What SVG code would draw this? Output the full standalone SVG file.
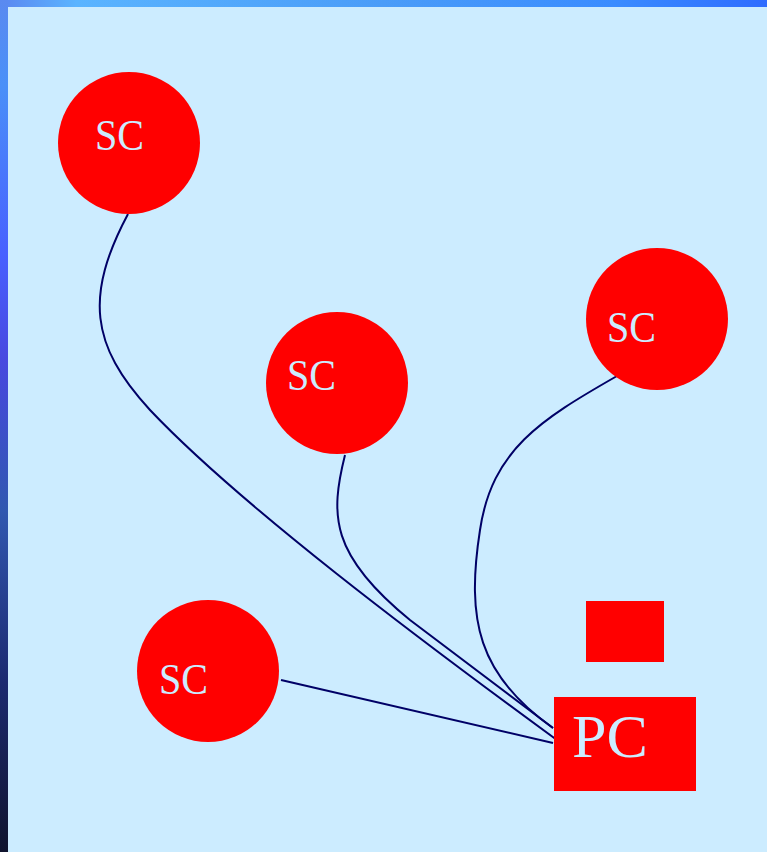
<svg xmlns="http://www.w3.org/2000/svg" width="767" height="852" viewBox="0 0 767 852">
<defs>
<linearGradient id="gTop" x1="0" y1="0" x2="1" y2="0">
<stop offset="0" stop-color="#5a86f0"/>
<stop offset="0.1" stop-color="#5ab4ff"/>
<stop offset="0.5" stop-color="#4a9cf8"/>
<stop offset="0.8" stop-color="#3a8cff"/>
<stop offset="1" stop-color="#2f6cff"/>
</linearGradient>
<linearGradient id="gLeft" x1="0" y1="0" x2="0" y2="1">
<stop offset="0" stop-color="#5a8af0"/>
<stop offset="0.1" stop-color="#4a90f8"/>
<stop offset="0.3" stop-color="#4860ff"/>
<stop offset="0.42" stop-color="#4848e0"/>
<stop offset="0.6" stop-color="#3058b0"/>
<stop offset="0.8" stop-color="#1c2a70"/>
<stop offset="1" stop-color="#10142e"/>
</linearGradient>
<style>
.sc{fill:#ff0000}
.t{font-family:"Liberation Serif","Times New Roman",serif;fill:#ccecff}
.c{fill:none;stroke:#000066;stroke-width:2}
</style>
</defs>
<rect x="0" y="0" width="767" height="852" fill="#ccecff"/>
<rect x="0" y="0" width="767" height="7" fill="url(#gTop)"/>
<rect x="0" y="0" width="8" height="852" fill="url(#gLeft)"/>
<g id="connectors">
<path class="c" d="M281,680 L553,743"/>
<path class="c" d="M128,214 C85,295 90,345 150,410 C240,505 420,640 561,743"/>
<path class="c" d="M345,455 C330,515 330,555 410,620 L553,728"/>
<path class="c" d="M617,376 C540,420 492,450 480,530 C466,620 478,675 553,728"/>
</g>
<g id="sc1"><circle class="sc" cx="129" cy="143" r="71"/><text class="t" x="95" y="150" font-size="45" textLength="49" lengthAdjust="spacingAndGlyphs">SC</text></g>
<g id="sc2"><circle class="sc" cx="337" cy="383" r="71"/><text class="t" x="287" y="390" font-size="45" textLength="49" lengthAdjust="spacingAndGlyphs">SC</text></g>
<g id="sc3"><circle class="sc" cx="657" cy="319" r="71"/><text class="t" x="607" y="342" font-size="45" textLength="49" lengthAdjust="spacingAndGlyphs">SC</text></g>
<g id="sc4"><circle class="sc" cx="208" cy="671" r="71"/><text class="t" x="159" y="694" font-size="45" textLength="49" lengthAdjust="spacingAndGlyphs">SC</text></g>
<g id="square"><rect class="sc" x="586" y="601" width="78" height="61"/></g>
<g id="pc"><rect class="sc" x="554" y="697" width="142" height="94"/><text class="t" x="572" y="757" font-size="62">PC</text></g>
</svg>
